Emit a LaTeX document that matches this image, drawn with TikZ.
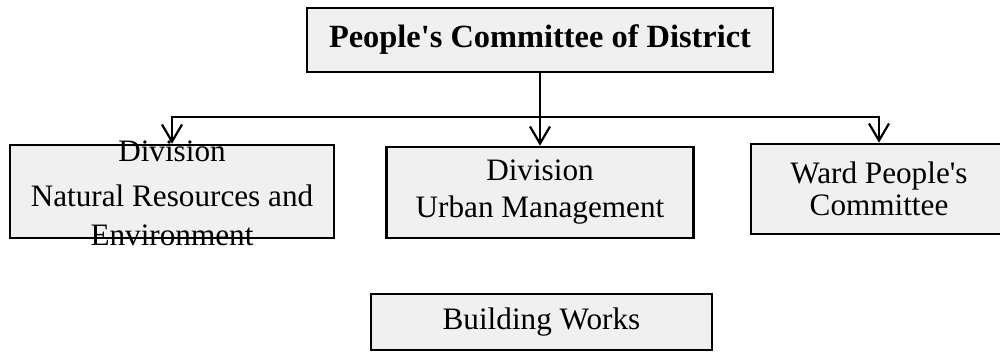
\documentclass[tikz,border=0pt]{standalone}
\usepackage{fontspec}
\setmainfont{Liberation Serif}
\usetikzlibrary{arrows.meta}
\definecolor{boxfill}{HTML}{F0F0F0}
\tikzstyle{orgBox} = [draw=black, fill=boxfill, line width=1.3pt,
    rectangle, inner sep=0pt, align=center]
\tikzstyle{orgText} = [inner sep=0pt, align=center]
\tikzstyle{link} = [line width=1.1pt]
\tikzstyle{linkArrow} = [link, -{Straight Barb[length=8.5pt, width=10pt, line width=1.1pt]}]
\newcommand{\boxfont}[1]{\fontsize{15.6}{#1}\selectfont}

\begin{document}
\begin{tikzpicture}[x=0.5pt, y=-0.5pt]
\useasboundingbox (0,0) rectangle (1000,352);

\node[orgBox, minimum width=233pt, minimum height=32pt,
  font=\fontsize{16.2}{18}\selectfont\bfseries] (district) at (540,40)
  {People\textquotesingle s Committee of District};

\node[orgBox, minimum width=162pt, minimum height=46.5pt] (nature) at (172,191.5) {};
\node[orgText, font=\boxfont{19.5}] (natureText) at (172,193.5)
  {Division\\[3pt] Natural Resources and\\ Environment};

\node[orgBox, minimum width=153.5pt, minimum height=45.5pt,
  font=\boxfont{18.5}] (urban) at (540,192.5)
  {Division\\ Urban Management};

\node[orgBox, minimum width=128pt, minimum height=45pt,
  font=\boxfont{16}] (ward) at (879,189)
  {Ward People\textquotesingle s\\ Committee};

\node[orgBox, minimum width=170.5pt, minimum height=28pt,
  font=\boxfont{18}] (works) at (541.5,322) {Building Works};

\coordinate (bus) at (540,117);
\draw[linkArrow] (district.south) -- (urban.north);
\draw[linkArrow] (bus) -| (nature.north);
\draw[linkArrow] (bus) -| (ward.north);

\end{tikzpicture}
\end{document}
